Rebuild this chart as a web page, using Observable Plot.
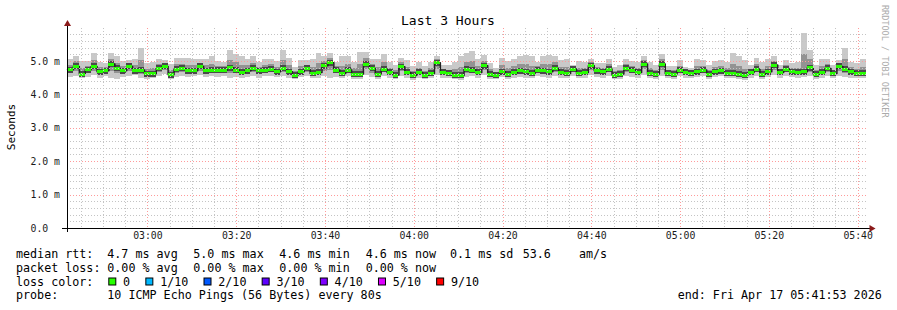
<!DOCTYPE html>
<html><head><meta charset="utf-8">
<script src="https://cdn.jsdelivr.net/npm/d3@7"></script>
<script src="https://cdn.jsdelivr.net/npm/@observablehq/plot@0.6"></script>
<style>
body{margin:0;background:#fff}
#wrap{position:relative;width:897px;height:310px;background:#fff}
#wrap svg{position:absolute;left:0;top:0}
</style></head><body><div id="wrap"></div>
<script>
// ---- data (ms x 100), one value per 80 s step, 02:41:53 -> 05:41:53 ----
const med = [475,485,462,475,485,469,472,492,479,472,485,472,474,463,463,479,485,460,477,479,472,472,485,472,474,474,474,481,474,467,472,479,472,474,
477,469,479,469,459,469,479,464,467,487,496,474,464,474,462,462,492,479,462,477,467,459,484,467,458,467,459,464,496,467,464,459,458,477,
474,467,487,462,459,469,462,467,472,469,464,474,472,469,479,467,464,477,464,467,487,472,469,477,459,462,479,474,467,492,464,462,492,
464,462,474,467,464,469,474,462,469,472,464,464,462,459,467,477,462,469,489,467,477,469,467,469,481,462,467,479,464,485,477,469,464,464];
const hi = [505,516,500,500,525,498,495,525,514,500,503,505,538,495,498,505,503,490,509,509,509,507,507,507,514,500,496,532,522,514,505,514,496,505,
507,499,532,510,483,502,502,507,524,514,524,497,514,514,497,528,528,505,505,522,497,487,510,502,485,497,485,497,516,487,487,497,514,524,
531,507,519,494,478,510,499,507,516,519,514,497,514,519,516,502,507,489,499,497,507,494,494,507,482,489,507,499,497,516,497,487,522,
485,485,502,481,478,507,502,489,499,502,497,524,516,502,489,510,497,505,516,487,502,494,497,584,534,487,507,507,487,504,538,497,494,505];
const lo = [452,455,448,452,458,450,455,450,447,452,455,458,450,445,450,455,460,445,452,455,452,456,458,452,455,452,455,450,452,448,452,455,450,455,
455,452,455,450,445,452,455,448,450,455,450,452,448,455,447,445,458,452,447,455,450,445,455,450,442,450,445,448,458,450,448,445,442,452,
455,450,458,447,445,452,447,450,452,450,448,455,452,450,455,450,448,455,448,450,458,452,450,455,445,447,455,452,450,458,448,447,455,
448,447,455,450,448,452,455,447,452,455,448,450,447,442,450,455,447,452,458,450,455,452,450,452,455,447,450,455,448,455,452,450,448,450];
const mhi = [489,499,480,486,503,482,482,507,495,485,493,487,503,477,479,491,493,473,491,492,489,488,495,488,492,486,484,504,496,488,487,495,483,488,
491,482,503,487,470,484,489,483,493,499,509,484,486,492,478,492,508,491,481,497,480,472,496,483,470,480,471,479,505,476,474,476,483,498,
500,485,501,476,468,487,479,485,492,491,486,484,491,491,496,483,483,482,480,480,496,482,480,490,469,474,492,485,480,503,479,473,505,
473,472,486,473,470,486,486,474,482,485,478,490,486,477,477,492,477,485,501,476,488,480,480,520,505,473,485,492,474,494,505,482,477,482];
const mlo = [463,470,455,463,471,459,463,471,463,462,470,465,462,454,456,467,472,452,464,467,462,464,471,462,464,463,464,465,463,457,462,467,461,464,
466,460,467,459,452,460,467,456,458,471,473,463,456,464,454,453,475,465,454,466,458,452,469,458,450,458,452,456,477,458,456,452,450,464,
464,458,472,454,452,460,454,458,462,459,456,464,462,459,467,458,456,466,456,458,472,462,459,466,452,454,467,463,458,475,456,454,473,
456,454,464,458,456,460,464,454,460,463,456,457,454,450,458,466,454,460,473,458,466,460,458,460,468,454,458,467,456,470,464,459,456,457];

const yMajor = [0,1,2,3,4,5];
const yLabels = ["0.0","1.0 m","2.0 m","3.0 m","4.0 m","5.0 m"];
const xLabels = ["03:00","03:20","03:40","04:00","04:20","04:40","05:00","05:20","05:40"];

const title = "Last 3 Hours";
const yTitle = "Seconds";
const sideNote = "RRDTOOL / TOBI OETIKER";
const rttStats = ["4.7 ms avg","5.0 ms max","4.6 ms min","4.6 ms now"];
const rttExtra = ["0.1 ms sd","53.6","am/s"];
const lossStats = ["0.00 % avg","0.00 % max","0.00 % min","0.00 % now"];
const lossLabels = ["0","1/10","2/10","3/10","4/10","5/10","9/10"];
const lossColors = ["#26ff00","#00b8ff","#0059ff","#5e00ff","#7e00ff","#dd00ff","#ff0000"];
const probeText = "10 ICMP Echo Pings (56 Bytes) every 80s";
const endText = "end: Fri Apr 17 05:41:53 2026";

// ---- build ----
const T0 = Date.UTC(2026, 3, 17, 2, 41, 53);
const STEP = 80000;
const T1 = T0 + med.length * STEP;
const data = med.map((m, i) => ({
  t: new Date(T0 + i * STEP), t2: new Date(T0 + (i + 1) * STEP),
  med: m / 100, hi: hi[i] / 100, lo: lo[i] / 100, mhi: mhi[i] / 100, mlo: mlo[i] / 100
}));
const hm = s => { const [h, m] = s.split(":").map(Number); return new Date(Date.UTC(2026, 3, 17, h, m)); };
const xMajor = xLabels.map(hm);
const xMinor = d3.utcMinute.every(5).range(new Date(T0), new Date(T1)).filter(d => d.getUTCMinutes() % 20 !== 0);
const yMinor = d3.range(1, 30).map(k => k / 5).filter(v => Math.abs(v - Math.round(v)) > 1e-6);

const FONT = "DejaVu Sans Mono";
const dotted = "1,2";

const chart = Plot.plot({
  width: 897, height: 310,
  marginLeft: 67, marginRight: 31, marginTop: 27.5, marginBottom: 82,
  style: {fontFamily: FONT, background: "transparent", overflow: "visible"},
  x: {type: "utc", domain: [new Date(T0), new Date(T1)], axis: null},
  y: {domain: [0, 6], axis: null},
  marks: [
    Plot.rect(data, {x1: "t", x2: "t2", y1: "lo", y2: "hi", fill: "#c9c9c9", shapeRendering: "crispEdges"}),
    Plot.rect(data, {x1: "t", x2: "t2", y1: "mlo", y2: "mhi", fill: "#939393", shapeRendering: "crispEdges"}),
    Plot.ruleY(data, {x1: "t", x2: "t2", y: "med", stroke: "#4a4a4a", strokeWidth: 6, shapeRendering: "crispEdges"}),
    Plot.line(data, {x: "t", y: "med", curve: "step-after", stroke: "#222", strokeWidth: 1.5}),
    Plot.ruleY(data, {x1: "t", x2: "t2", y: "med", stroke: "#26ff00", strokeWidth: 3, shapeRendering: "crispEdges"}),
    Plot.ruleY(yMinor, {stroke: "#c4c4c4", strokeDasharray: dotted, strokeWidth: 1, shapeRendering: "crispEdges"}),
    Plot.ruleX(xMinor, {stroke: "#c4c4c4", strokeDasharray: dotted, strokeWidth: 1, shapeRendering: "crispEdges"}),
    Plot.ruleY(yMajor.filter(v => v > 0), {stroke: "#ff9a9a", strokeDasharray: dotted, strokeWidth: 1, shapeRendering: "crispEdges"}),
    Plot.ruleX(xMajor, {stroke: "#ff9a9a", strokeDasharray: dotted, strokeWidth: 1, shapeRendering: "crispEdges"}),
    Plot.ruleY([0], {stroke: "#000", strokeWidth: 1, insetLeft: -5, insetRight: -4, shapeRendering: "crispEdges"}),
    Plot.ruleX([new Date(T0)], {stroke: "#000", strokeWidth: 1, insetTop: -4, insetBottom: -4, shapeRendering: "crispEdges"}),
    Plot.dot([new Date(T1)], {x: d => d, y: () => 0, symbol: "triangle", r: 2.6, fill: "#8b1a1a", rotate: 90, dx: 5}),
    Plot.dot([new Date(T0)], {x: d => d, y: () => 6, symbol: "triangle", r: 2.6, fill: "#8b1a1a", dy: -4}),
    Plot.text(yMajor, {y: d => d, text: (d, i) => yLabels[i], frameAnchor: "left", textAnchor: "start", dx: -37, fontSize: 9.8, fill: "#1a1a1a"}),
    Plot.text(xMajor, {x: d => d, text: (d, i) => xLabels[i], frameAnchor: "bottom", dy: 10, fontSize: 9.8, fill: "#1a1a1a"})
  ]
});
document.getElementById("wrap").appendChild(chart);

// ---- title, side labels and legend ----
const svg = d3.select("#wrap").append("svg").attr("width", 897).attr("height", 310)
  .attr("font-family", FONT).style("pointer-events", "none");
const txt = (x, y, s, size, opts = {}) => svg.append("text").attr("x", x).attr("y", y)
  .attr("font-size", size).attr("fill", opts.fill || "#000").attr("text-anchor", opts.anchor || "start")
  .attr("transform", opts.rot ? `rotate(${opts.rot},${x},${y})` : null)
  .attr("xml:space", "preserve").text(s);

txt(448, 24.5, title, 13, {anchor: "middle"});
txt(15, 127, yTitle, 11, {anchor: "middle", rot: -90});
txt(882, 5, sideNote, 8.5, {fill: "#ababab", rot: 90});

const FS = 11.7, CW = 7.04;
const rows = [258, 272, 285.5, 299];
const cols = [107.3, 193.3, 279.3, 365.7];
txt(16, rows[0], "median rtt:", FS);
rttStats.forEach((s, i) => txt(cols[i], rows[0], s, FS));
[450, 522.7, 579].forEach((x, i) => txt(x, rows[0], rttExtra[i], FS));
txt(16, rows[1], "packet loss:", FS);
lossStats.forEach((s, i) => txt(cols[i], rows[1], s, FS));
txt(16, rows[2], "loss color:", FS);
let bx = 108.3;
lossLabels.forEach((s, i) => {
  svg.append("rect").attr("x", bx + 0.5).attr("y", rows[2] - 7.5).attr("width", 7).attr("height", 7)
    .attr("fill", lossColors[i]).attr("stroke", "#000").attr("stroke-width", 1);
  txt(bx + 14.8, rows[2], s, FS);
  bx = bx + 14.8 + s.length * CW + 15.2;
});
txt(16, rows[3], "probe:", FS);
txt(107.3, rows[3], probeText, FS);
txt(677.7, rows[3], endText, FS);
</script></body></html>
